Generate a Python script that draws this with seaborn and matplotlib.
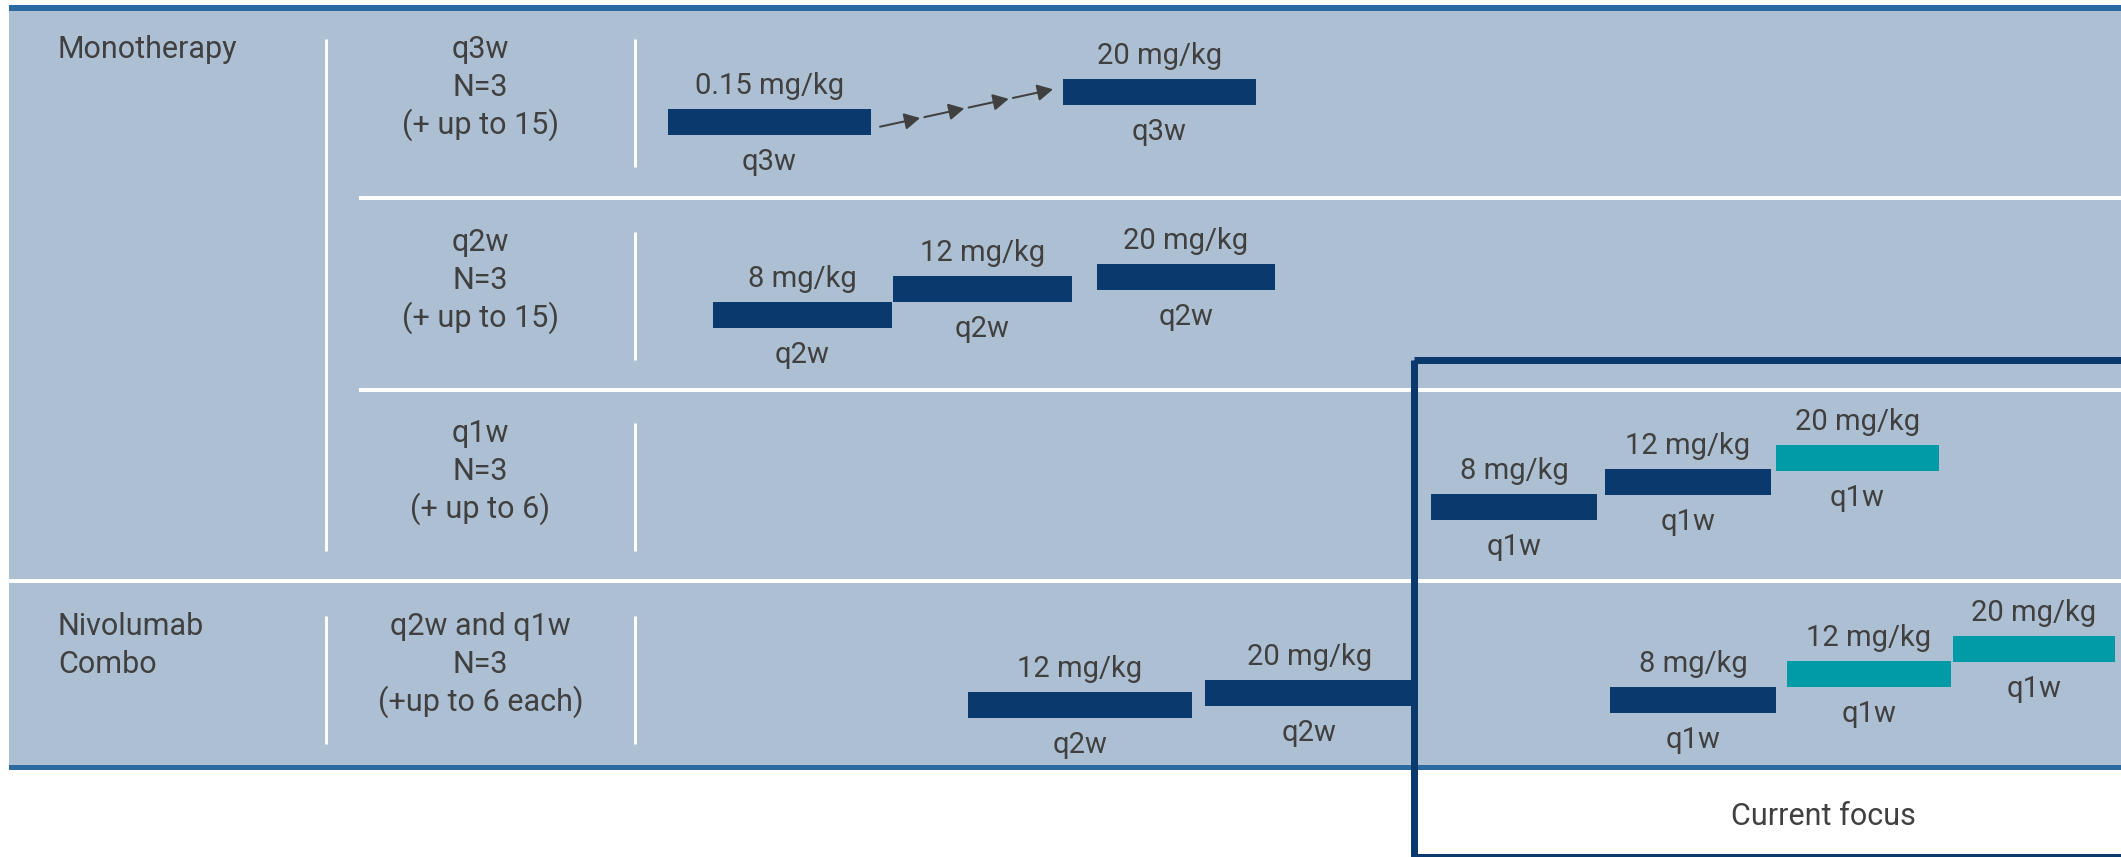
import numpy as np
import pandas as pd
import matplotlib
matplotlib.use("Agg")
import matplotlib.pyplot as plt
from matplotlib.patches import Rectangle, FancyArrowPatch, ArrowStyle
import seaborn as sns

# ---- cohort rows -------------------------------------------------------
cohort_group = ["Monotherapy", "", "", "Nivolumab\nCombo"]
cohort_schedule = [
    ["q3w", "N=3", "(+ up to 15)"],
    ["q2w", "N=3", "(+ up to 15)"],
    ["q1w", "N=3", "(+ up to 6)"],
    ["q2w and q1w", "N=3", "(+up to 6 each)"],
]

# ---- dose-escalation steps ----------------------------------------------
bar_cohort = [0, 0, 1, 1, 1, 2, 2, 2, 3, 3, 3, 3, 3]
bar_dose = ["0.15 mg/kg", "20 mg/kg",
            "8 mg/kg", "12 mg/kg", "20 mg/kg",
            "8 mg/kg", "12 mg/kg", "20 mg/kg",
            "12 mg/kg", "20 mg/kg", "8 mg/kg", "12 mg/kg", "20 mg/kg"]
bar_schedule = ["q3w", "q3w",
                "q2w", "q2w", "q2w",
                "q1w", "q1w", "q1w",
                "q2w", "q2w", "q1w", "q1w", "q1w"]
bar_status = ["cleared", "cleared",
              "cleared", "cleared", "cleared",
              "cleared", "cleared", "open",
              "cleared", "cleared", "cleared", "open", "open"]
bar_start = [668, 1063, 713, 893, 1097, 1431, 1605, 1776, 968, 1205, 1610, 1787, 1953]
bar_end = [871, 1256, 892, 1072, 1275, 1597, 1771, 1939, 1192, 1414, 1776, 1951, 2115]
bar_mid = [122, 92, 315, 289, 277, 507, 482, 458, 705, 693, 700, 674, 649]

focus_label = "Current focus"

bars = pd.DataFrame({
    "cohort": bar_cohort, "dose": bar_dose, "schedule": bar_schedule,
    "status": bar_status, "start": bar_start, "end": bar_end, "mid": bar_mid,
})
bars["span"] = bars["end"] - bars["start"]

# ---- style ---------------------------------------------------------------
sns.set_theme(style="white")
plt.rcParams["font.family"] = ["Roboto", "DejaVu Sans"]

NAVY = "#0a396e"
TEAL = "#009ba7"
PANEL = "#adbfd2"
RULE = "#2a6aa0"
TEXT = "#404040"
status_colors = {"cleared": NAVY, "open": TEAL}

W, H = 2121, 857
PT = 72 / 100  # points per pixel at dpi 100
FS = 22

fig = plt.figure(figsize=(W / 100, H / 100), dpi=100)
fig.patch.set_facecolor("white")
ax = fig.add_axes([0, 0, 1, 1])
ax.set_xlim(0, W)
ax.set_ylim(H, 0)
ax.axis("off")

# background panel with top and bottom rules
ax.add_patch(Rectangle((9, 11), W - 9, 754, facecolor=PANEL, edgecolor="none", zorder=0))
ax.add_patch(Rectangle((9, 5), W - 9, 6, facecolor=RULE, edgecolor="none", zorder=1))
ax.add_patch(Rectangle((9, 765), W - 9, 5, facecolor=RULE, edgecolor="none", zorder=1))

# row layout
row_center = [102.5, 296, 487, 680]
half_rule = 64
col_group_x, col_sched_x = 58, 480.5
div1_x, div2_x = 326, 635

# white separators between rows
ax.add_patch(Rectangle((359, 196), W - 359, 4, facecolor="white", edgecolor="none", zorder=1))
ax.add_patch(Rectangle((359, 388), W - 359, 4, facecolor="white", edgecolor="none", zorder=1))
ax.add_patch(Rectangle((9, 579), W - 9, 4, facecolor="white", edgecolor="none", zorder=1))

# column dividers
ax.vlines(div1_x, row_center[0] - half_rule, row_center[2] + half_rule,
          color="white", lw=3 * PT, zorder=1)
ax.vlines(div1_x, row_center[3] - half_rule, row_center[3] + half_rule,
          color="white", lw=3 * PT, zorder=1)
for c in row_center:
    ax.vlines(div2_x, c - half_rule, c + half_rule, color="white", lw=3 * PT, zorder=1)

# row text
line_offsets = [-45, -7, 31]
for i, c in enumerate(row_center):
    for j, line in enumerate(cohort_group[i].split("\n")):
        if line:
            ax.text(col_group_x, c + line_offsets[j], line, ha="left", va="baseline",
                    fontsize=FS, color=TEXT, zorder=5)
    for j, line in enumerate(cohort_schedule[i]):
        ax.text(col_sched_x, c + line_offsets[j], line, ha="center", va="baseline",
                fontsize=FS, color=TEXT, zorder=5)

# dose bars
BAR_H = 26
ax.barh(bars["mid"], bars["span"], left=bars["start"], height=BAR_H,
        color=[status_colors[s] for s in bars["status"]], edgecolor="none", zorder=3)

for _, r in bars.iterrows():
    cx = (r["start"] + r["end"]) / 2
    ax.text(cx, r["mid"] - BAR_H / 2 - 15, r["dose"], ha="center", va="baseline",
            fontsize=FS - 1, color=TEXT, zorder=5)
    ax.text(cx, r["mid"] + BAR_H / 2 + 35, r["schedule"], ha="center", va="baseline",
            fontsize=FS - 1, color=TEXT, zorder=5)

# chained arrows between the first two q3w steps
a, b = bars.iloc[0], bars.iloc[1]
p0 = np.array([a["end"] + 9, a["mid"] + 4.7])
p1 = np.array([b["start"] - 10, b["mid"] - 2.7])
n_seg, gap = 4, 4.3
vec = p1 - p0
L = np.hypot(*vec)
u = vec / L
seg = (L - (n_seg - 1) * gap) / n_seg
style = ArrowStyle("-|>", head_length=0.47, head_width=0.25)
for k in range(n_seg):
    s = p0 + u * k * (seg + gap)
    e = s + u * seg
    ax.add_patch(FancyArrowPatch(tuple(s), tuple(e), arrowstyle=style, mutation_scale=20,
                                 color=TEXT, lw=2 * PT, shrinkA=0, shrinkB=0, zorder=4))

# current-focus frame
ax.add_patch(Rectangle((1414, 359.5), 900, 497.5, facecolor="none", edgecolor=NAVY,
                       lw=7 * PT, zorder=6, clip_on=True))
ax.text(1823, 825, focus_label, ha="center", va="baseline", fontsize=FS, color=TEXT, zorder=5)

fig.savefig("out.png", dpi=100, facecolor="white")
